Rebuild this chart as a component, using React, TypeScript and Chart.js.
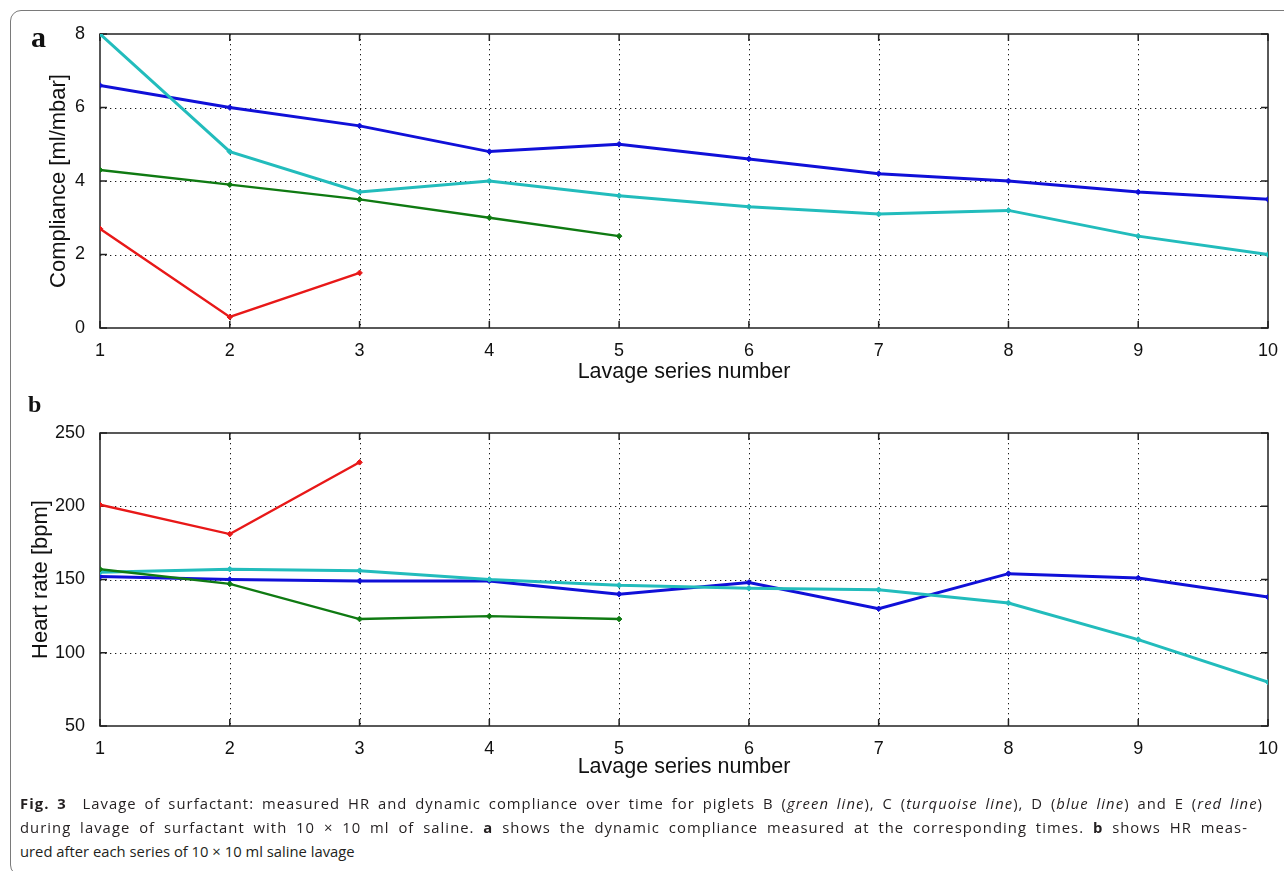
import React, { useEffect, useRef } from "react";
import { Chart, registerables } from "chart.js";

Chart.register(...registerables);

// ---- data ----
const lavageSeries = [1, 2, 3, 4, 5, 6, 7, 8, 9, 10];

const complianceB = [4.3, 3.9, 3.5, 3.0, 2.5];
const complianceC = [8.0, 4.8, 3.7, 4.0, 3.6, 3.3, 3.1, 3.2, 2.5, 2.0];
const complianceD = [6.6, 6.0, 5.5, 4.8, 5.0, 4.6, 4.2, 4.0, 3.7, 3.5];
const complianceE = [2.7, 0.3, 1.5];

const heartRateB = [157, 147, 123, 125, 123];
const heartRateC = [155, 157, 156, 150, 146, 144, 143, 134, 109, 80];
const heartRateD = [152, 150, 149, 149, 140, 148, 130, 154, 151, 138];
const heartRateE = [201, 181, 230];

const complianceTickValues = [0, 2, 4, 6, 8];
const heartRateTickValues = [50, 100, 150, 200, 250];

const pigletNames = ["B", "C", "D", "E"];
const pigletColors = ["#0f7a12", "#22bcbc", "#1010d8", "#e81818"];
const pigletWidths = [2.4, 3, 3, 2.4];

const FONT = "'Liberation Sans', Arial, Helvetica, sans-serif";

const toPoints = (vals: number[]) => vals.map((v, i) => ({ x: lavageSeries[i], y: v }));

const matlabAxes = {
  id: "matlabAxes",
  beforeDatasetsDraw(chart: any) {
    const { ctx, chartArea } = chart;
    const { left, right, top, bottom } = chartArea;
    const xs = chart.scales.x;
    const ys = chart.scales.y;
    ctx.save();
    // dotted grid
    ctx.strokeStyle = "#1a1a1a";
    ctx.lineWidth = 1;
    ctx.setLineDash([1.3, 3.7]);
    xs.ticks.forEach((t: any) => {
      const px = Math.round(xs.getPixelForValue(t.value)) + 0.5;
      if (px <= left + 2 || px >= right - 2) return;
      ctx.beginPath();
      ctx.moveTo(px, top);
      ctx.lineTo(px, bottom);
      ctx.stroke();
    });
    ys.ticks.forEach((t: any) => {
      const py = Math.round(ys.getPixelForValue(t.value)) + 0.5;
      if (py <= top + 2 || py >= bottom - 2) return;
      ctx.beginPath();
      ctx.moveTo(left, py);
      ctx.lineTo(right, py);
      ctx.stroke();
    });
    ctx.setLineDash([]);
    // box
    ctx.strokeStyle = "#222";
    ctx.lineWidth = 1.5;
    ctx.strokeRect(left, top, right - left, bottom - top);
    // inward ticks
    const tl = 7;
    ctx.lineWidth = 1.5;
    xs.ticks.forEach((t: any) => {
      const px = xs.getPixelForValue(t.value);
      ctx.beginPath();
      ctx.moveTo(px, bottom);
      ctx.lineTo(px, bottom - tl);
      ctx.moveTo(px, top);
      ctx.lineTo(px, top + tl);
      ctx.stroke();
    });
    ys.ticks.forEach((t: any) => {
      const py = ys.getPixelForValue(t.value);
      ctx.beginPath();
      ctx.moveTo(left, py);
      ctx.lineTo(left + tl, py);
      ctx.moveTo(right, py);
      ctx.lineTo(right - tl, py);
      ctx.stroke();
    });
    ctx.restore();
  },
};

function makeConfig(
  series: number[][],
  yTicks: number[],
  yTitle: string,
  yTitlePad: number,
  xTitlePad: number,
  padTop: number,
  xHeight: number
): any {
  return {
    type: "line",
    data: {
      datasets: series.map((vals, i) => ({
        label: pigletNames[i],
        data: toPoints(vals),
        borderColor: pigletColors[i],
        backgroundColor: pigletColors[i],
        borderWidth: pigletWidths[i],
        pointStyle: "rectRot",
        pointRadius: 2.8,
        pointBorderWidth: 1,
        pointBorderColor: pigletColors[i],
        pointBackgroundColor: pigletColors[i],
        tension: 0,
        fill: false,
      })),
    },
    options: {
      responsive: false,
      animation: false,
      devicePixelRatio: 1,
      layout: { padding: { top: padTop, right: 16, left: 0, bottom: 0 } },
      plugins: { legend: { display: false }, tooltip: { enabled: false } },
      scales: {
        x: {
          type: "linear",
          min: lavageSeries[0],
          max: lavageSeries[lavageSeries.length - 1],
          afterBuildTicks: (s: any) => {
            s.ticks = lavageSeries.map((v) => ({ value: v }));
          },
          afterFit: (s: any) => {
            s.height = xHeight;
          },
          grid: { display: false },
          border: { display: false },
          ticks: {
            padding: 4,
            color: "#111",
            font: { family: FONT, size: 18 },
            maxRotation: 0,
          },
          title: {
            display: true,
            text: "Lavage series number",
            color: "#111",
            font: { family: FONT, size: 21.5 },
            padding: { top: 0, bottom: xTitlePad },
          },
        },
        y: {
          type: "linear",
          min: yTicks[0],
          max: yTicks[yTicks.length - 1],
          afterBuildTicks: (s: any) => {
            s.ticks = yTicks.map((v) => ({ value: v }));
          },
          afterFit: (s: any) => {
            s.width = 100;
          },
          grid: { display: false },
          border: { display: false },
          ticks: {
            padding: 7,
            color: "#111",
            font: { family: FONT, size: 18 },
          },
          title: {
            display: true,
            text: yTitle,
            color: "#111",
            font: { family: FONT, size: 22 },
            padding: { top: yTitlePad, bottom: 0 },
          },
        },
      },
    },
    plugins: [matlabAxes],
  };
}

function LineChart(props: { config: any; width: number; height: number; top: number }) {
  const ref = useRef<HTMLCanvasElement | null>(null);
  useEffect(() => {
    if (!ref.current) return;
    const chart = new Chart(ref.current, props.config);
    return () => chart.destroy();
  }, []);
  return (
    <canvas
      ref={ref}
      width={props.width}
      height={props.height}
      style={{ position: "absolute", left: 0, top: props.top, width: props.width, height: props.height, display: "block" }}
    />
  );
}

const captionStyle: React.CSSProperties = {
  position: "absolute",
  left: 20,
  whiteSpace: "nowrap",
  fontFamily: "'Open Sans', 'Noto Sans', sans-serif",
  fontSize: 14.8,
  lineHeight: "24px",
  color: "#231f20",
};

const justified: React.CSSProperties = {
  whiteSpace: "normal",
  textAlign: "justify",
  textAlignLast: "justify",
  letterSpacing: "1.05px",
  overflow: "hidden",
  height: 24,
};

export default function App() {
  const topConfig = makeConfig(
    [complianceB, complianceC, complianceD, complianceE],
    complianceTickValues,
    "Compliance [ml/mbar]",
    46,
    15,
    34,
    72
  );
  const bottomConfig = makeConfig(
    [heartRateB, heartRateC, heartRateD, heartRateE],
    heartRateTickValues,
    "Heart rate [bpm]",
    28,
    20,
    33,
    74
  );
  return (
    <div style={{ position: "absolute", left: 0, top: 0, width: 1284, height: 871, overflow: "hidden", background: "#fff" }}>
      <div
        style={{
          position: "absolute",
          left: 10,
          top: 10,
          width: 1320,
          height: 866,
          border: "1px solid #7a7a7a",
          borderRadius: 11,
          boxSizing: "border-box",
        }}
      />
      <LineChart config={topConfig} width={1284} height={400} top={0} />
      <LineChart config={bottomConfig} width={1284} height={400} top={400} />
      <div style={{ position: "absolute", left: 31, top: 19, fontFamily: "'Liberation Serif', 'Times New Roman', serif", fontWeight: "bold", fontSize: 30, lineHeight: "36px", color: "#111" }}>a</div>
      <div style={{ position: "absolute", left: 28, top: 389, fontFamily: "'Liberation Serif', 'Times New Roman', serif", fontWeight: "bold", fontSize: 24, lineHeight: "30px", color: "#111" }}>b</div>
      <div style={{ ...captionStyle, ...justified, top: 791, width: 1243 }}>
        <b>Fig. 3</b>&nbsp; Lavage of surfactant: measured HR and dynamic compliance over time for piglets B (<i>green line</i>), C (<i>turquoise line</i>), D (<i>blue line</i>) and E (<i>red line</i>)
      </div>
      <div style={{ ...captionStyle, ...justified, top: 815, width: 1228 }}>
        during lavage of surfactant with 10 × 10 ml of saline. <b>a</b> shows the dynamic compliance measured at the corresponding times. <b>b</b> shows HR meas-
      </div>
      <div style={{ ...captionStyle, top: 839 }}>ured after each series of 10 × 10 ml saline lavage</div>
    </div>
  );
}
